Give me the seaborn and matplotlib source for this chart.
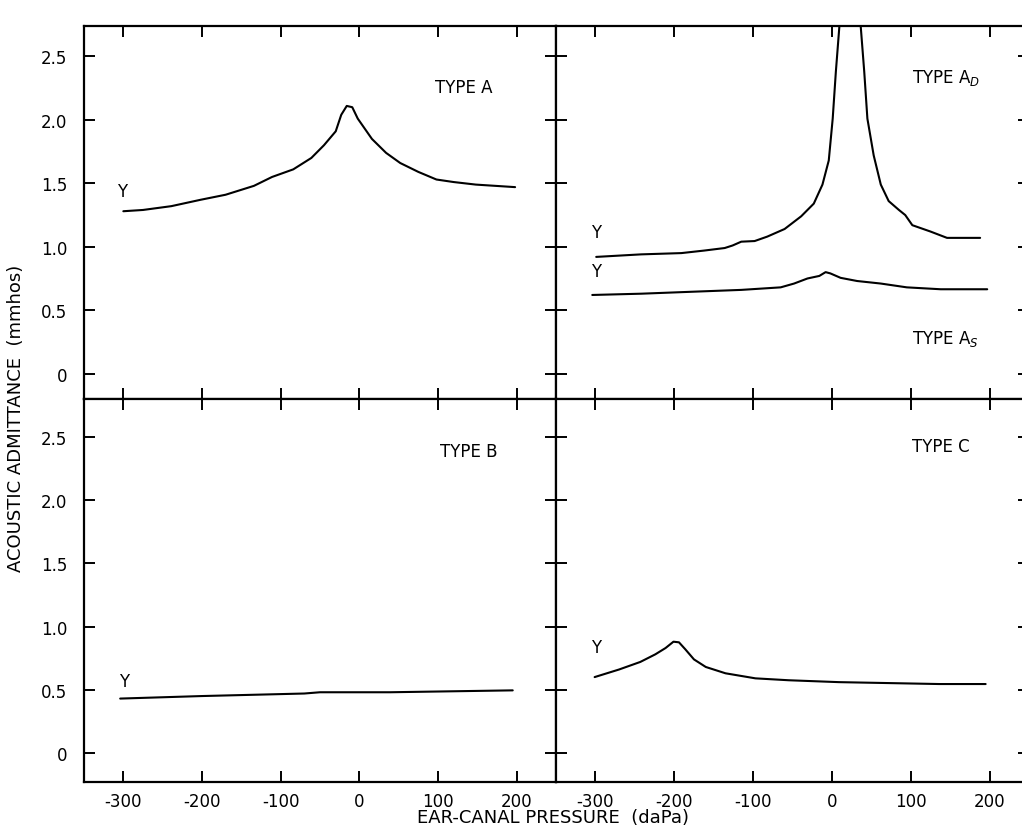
import numpy as np
import pandas as pd
import matplotlib
matplotlib.use("Agg")
import matplotlib.pyplot as plt
import seaborn as sns

# Tympanogram types, values
# Type A
a_x = [-300, -275, -239, -202, -170, -134, -111, -84, -61, -45, -30, -23, -16, -9, -2,
       16, 34, 52, 75, 98, 120, 148, 198]
a_y = [1.28, 1.29, 1.32, 1.37, 1.41, 1.48, 1.55, 1.61, 1.70, 1.80, 1.91, 2.04, 2.11, 2.10, 2.01,
       1.85, 1.74, 1.66, 1.59, 1.53, 1.51, 1.49, 1.47]

# Type A_D (peak runs off the top of the panel)
ad_x = [-299, -242, -191, -162, -136, -126, -115, -98, -82, -60, -39, -23, -12, -4, 1, 5, 10,
        22, 36, 41, 45, 53, 62, 72, 85, 93, 102, 125, 146, 188]
ad_y = [0.92, 0.94, 0.95, 0.97, 0.99, 1.01, 1.04, 1.045, 1.08, 1.14, 1.24, 1.34, 1.49, 1.68, 2.01,
        2.38, 2.78, 3.60, 2.78, 2.38, 2.01, 1.72, 1.49, 1.36, 1.29, 1.25, 1.17, 1.12, 1.07, 1.07]

# Type A_S
as_x = [-304, -242, -179, -115, -65, -48, -31, -16, -8, -2, 11, 32, 62, 95, 138, 197]
as_y = [0.62, 0.63, 0.645, 0.66, 0.68, 0.71, 0.75, 0.77, 0.80, 0.79, 0.755, 0.73, 0.71, 0.68, 0.665, 0.665]

# Type B
b_x = [-304, -200, -70, -50, 39, 195]
b_y = [0.43, 0.45, 0.47, 0.48, 0.48, 0.495]

# Type C
c_x = [-301, -270, -243, -224, -211, -201, -194, -186, -175, -160, -135, -97, -55, 9, 94, 136, 195]
c_y = [0.60, 0.66, 0.72, 0.78, 0.83, 0.88, 0.875, 0.82, 0.74, 0.68, 0.63, 0.59, 0.575, 0.56, 0.55,
       0.545, 0.545]

x_ticks = [-300, -200, -100, 0, 100, 200]
y_ticks = [0, 0.5, 1.0, 1.5, 2.0, 2.5]
y_ticklabels = ["0", "0.5", "1.0", "1.5", "2.0", "2.5"]

sns.set_style("ticks")
plt.rcParams["font.family"] = ["DejaVu Sans"]
plt.rcParams["axes.unicode_minus"] = False

fig = plt.figure(figsize=(10.22, 8.28), dpi=100)
W, H = 1022, 828


def panel(x0, x1, y0, y1):
    return fig.add_axes([x0 / W, 1 - y1 / H, (x1 - x0) / W, (y1 - y0) / H])


ax_tl = panel(84, 556, 27, 400)
ax_tr = panel(556, 1029, 27, 400)
ax_bl = panel(84, 556, 400, 783)
ax_br = panel(556, 1029, 400, 783)

curves = {
    ax_tl: [(a_x, a_y)],
    ax_tr: [(ad_x, ad_y), (as_x, as_y)],
    ax_bl: [(b_x, b_y)],
    ax_br: [(c_x, c_y)],
}
for ax, series in curves.items():
    for xs, ys in series:
        df = pd.DataFrame({"p": xs, "y": ys})
        sns.lineplot(data=df, x="p", y="y", ax=ax, color="black", lw=1.5,
                     estimator=None, sort=False)

for ax in [ax_tl, ax_tr, ax_bl, ax_br]:
    ax.set_xlim(-350, 250)
    ax.set_xticks(x_ticks)
    ax.set_yticks(y_ticks)
    ax.set_yticklabels(y_ticklabels)
    ax.set_xlabel("")
    ax.set_ylabel("")
    for s in ax.spines.values():
        s.set_visible(True)
        s.set_linewidth(1.6)
        s.set_color("black")
    ax.tick_params(direction="in", length=8, width=1.4, top=True, right=True,
                   labelsize=12, colors="black")
    ax.set_facecolor("white")

ax_tl.set_ylim(-0.2, 2.74)
ax_tr.set_ylim(-0.2, 2.74)
ax_bl.set_ylim(-0.23, 2.80)
ax_br.set_ylim(-0.23, 2.80)

ax_tl.tick_params(labelbottom=False, pad=10)
ax_tl.tick_params(axis="y", pad=12)
ax_tr.tick_params(labelbottom=False, labelleft=False)
ax_bl.tick_params(axis="y", pad=12)
ax_bl.tick_params(axis="x", pad=7)
ax_br.tick_params(labelleft=False)
ax_br.tick_params(axis="x", pad=7)

lab = dict(fontsize=12, color="black")
ax_tl.text(96, 2.26, "TYPE A", va="center", **lab)
ax_tr.text(101, 2.34, "TYPE A$_D$", va="center", **lab)
ax_tr.text(101, 0.28, "TYPE A$_S$", va="center", **lab)
ax_bl.text(102, 2.39, "TYPE B", va="center", **lab)
ax_br.text(101, 2.43, "TYPE C", va="center", **lab)

ax_tl.text(-308, 1.44, "Y", va="center", **lab)
ax_tr.text(-306, 1.12, "Y", va="center", **lab)
ax_tr.text(-306, 0.81, "Y", va="center", **lab)
ax_bl.text(-306, 0.57, "Y", va="center", **lab)
ax_br.text(-306, 0.84, "Y", va="center", **lab)

fig.text(553 / W, 1 - 818 / H, "EAR-CANAL PRESSURE  (daPa)", ha="center", va="center",
         fontsize=13, color="black")
fig.text(16 / W, 1 - 418 / H, "ACOUSTIC ADMITTANCE  (mmhos)", ha="center", va="center",
         rotation=90, fontsize=13, color="black")

fig.savefig("out.png", dpi=100, facecolor="white")
